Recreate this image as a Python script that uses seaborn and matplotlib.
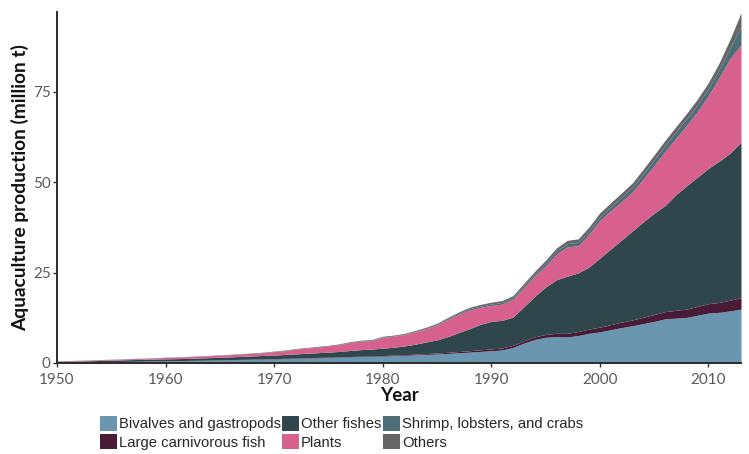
import numpy as np
import matplotlib
matplotlib.use("Agg")
import matplotlib.pyplot as plt
import seaborn as sns
from matplotlib.patches import Patch

years = list(range(1950, 2014))

bivalves = [0.20, 0.23, 0.26, 0.29, 0.32, 0.35, 0.39, 0.43, 0.47, 0.51,
            0.55, 0.60, 0.65, 0.70, 0.75, 0.80, 0.86, 0.92, 0.98, 1.04,
            1.10, 1.18, 1.26, 1.34, 1.42, 1.50, 1.58, 1.66, 1.74, 1.82,
            1.90, 2.00, 2.12, 2.24, 2.37, 2.50, 2.65, 2.82, 3.00, 3.20,
            3.40, 3.60, 4.30, 5.50, 6.50, 7.10, 7.30, 7.20, 7.60, 8.20,
            8.60, 9.20, 9.80, 10.30, 10.90, 11.50, 12.20, 12.40, 12.60, 13.20,
            13.80, 14.00, 14.40, 14.90]

large_carnivorous = [0.02, 0.02, 0.03, 0.03, 0.03, 0.04, 0.04, 0.04, 0.05, 0.05,
                     0.05, 0.06, 0.06, 0.07, 0.07, 0.08, 0.08, 0.09, 0.09, 0.10,
                     0.10, 0.11, 0.11, 0.12, 0.12, 0.13, 0.13, 0.14, 0.14, 0.15,
                     0.15, 0.17, 0.19, 0.21, 0.23, 0.25, 0.30, 0.35, 0.40, 0.45,
                     0.50, 0.55, 0.60, 0.65, 0.72, 0.80, 0.90, 1.00, 1.10, 1.20,
                     1.30, 1.40, 1.50, 1.60, 1.75, 1.90, 2.00, 2.15, 2.30, 2.45,
                     2.60, 2.75, 2.95, 3.20]

other_fishes = [0.23, 0.25, 0.26, 0.30, 0.35, 0.39, 0.43, 0.48, 0.50, 0.54,
                0.55, 0.54, 0.57, 0.61, 0.66, 0.70, 0.76, 0.81, 0.88, 0.94,
                1.00, 1.06, 1.15, 1.22, 1.31, 1.37, 1.49, 1.65, 1.82, 1.88,
                2.05, 2.18, 2.39, 2.75, 3.20, 3.65, 4.35, 5.23, 6.10, 7.05,
                7.60, 7.65, 7.80, 9.40, 11.20, 13.10, 14.80, 15.80, 16.20, 17.10,
                19.10, 20.90, 22.70, 24.60, 26.35, 28.00, 29.30, 31.95, 34.10, 35.75,
                37.40, 39.05, 40.65, 42.90]

plants = [0.11, 0.14, 0.17, 0.18, 0.20, 0.21, 0.22, 0.24, 0.27, 0.30,
          0.37, 0.42, 0.44, 0.48, 0.51, 0.57, 0.59, 0.65, 0.71, 0.77,
          0.94, 1.08, 1.29, 1.42, 1.53, 1.67, 1.85, 2.19, 2.32, 2.35,
          3.00, 3.02, 3.14, 3.40, 3.66, 4.10, 4.72, 5.04, 5.15, 4.67,
          4.40, 4.50, 4.90, 5.30, 5.60, 5.80, 7.10, 8.10, 7.50, 9.10,
          10.40, 10.60, 10.65, 10.80, 11.90, 13.20, 14.95, 15.60, 16.70, 18.20,
          20.10, 23.20, 26.10, 27.00]

shrimp = [0.01, 0.01, 0.01, 0.01, 0.01, 0.02, 0.02, 0.02, 0.02, 0.02,
          0.02, 0.02, 0.03, 0.03, 0.03, 0.03, 0.04, 0.04, 0.04, 0.05,
          0.05, 0.05, 0.06, 0.06, 0.07, 0.07, 0.08, 0.08, 0.09, 0.10,
          0.10, 0.11, 0.12, 0.14, 0.16, 0.20, 0.25, 0.30, 0.35, 0.38,
          0.40, 0.45, 0.50, 0.55, 0.65, 0.80, 0.85, 0.90, 0.95, 1.00,
          1.00, 1.10, 1.20, 1.30, 1.45, 1.60, 1.70, 1.80, 1.85, 1.90,
          2.00, 2.20, 3.00, 5.10]

others = [0.03, 0.03, 0.03, 0.04, 0.04, 0.04, 0.05, 0.05, 0.05, 0.06,
          0.06, 0.06, 0.07, 0.07, 0.08, 0.08, 0.09, 0.09, 0.10, 0.10,
          0.11, 0.12, 0.13, 0.14, 0.15, 0.16, 0.17, 0.18, 0.19, 0.20,
          0.20, 0.22, 0.24, 0.26, 0.28, 0.30, 0.33, 0.36, 0.40, 0.45,
          0.50, 0.52, 0.55, 0.60, 0.68, 0.80, 0.85, 0.90, 0.95, 1.00,
          1.10, 1.10, 1.15, 1.20, 1.25, 1.30, 1.35, 1.40, 1.45, 1.50,
          1.60, 1.80, 2.40, 3.70]

categories = ["Bivalves and gastropods", "Large carnivorous fish", "Other fishes",
              "Plants", "Shrimp, lobsters, and crabs", "Others"]
colors = ["#6b96af", "#4a1b36", "#2f464c", "#d8608d", "#4d6d79", "#666666"]
series = [bivalves, large_carnivorous, other_fishes, plants, shrimp, others]

y_ticks = [0, 25, 50, 75]
x_ticks = [1950, 1960, 1970, 1980, 1990, 2000, 2010]

sns.set_theme(style="ticks")
plt.rcParams["font.family"] = ["Lato", "DejaVu Sans"]

fig = plt.figure(figsize=(7.49, 4.54), dpi=100)
ax = fig.add_axes([57 / 749, 1 - 363 / 454, (741 - 57) / 749, (363 - 12) / 454])

ax.stackplot(years, *series, colors=colors, linewidth=0)

ax.set_xlim(1950, 2013)
ax.set_ylim(0, 97)
ax.set_yticks(y_ticks)
ax.set_xticks(x_ticks)
ax.tick_params(axis="both", labelsize=11, labelcolor="#5a5a5a", color="#333333",
               length=3, width=1)
ax.tick_params(axis="x", pad=4)
ax.tick_params(axis="y", pad=1.5)
sns.despine(ax=ax)
for s in ["left", "bottom"]:
    ax.spines[s].set_color("#2b2b2b")
    ax.spines[s].set_linewidth(1.4)

ax.set_xlabel("Year", fontsize=13.5, fontweight="bold", color="#111111", labelpad=0)
ax.set_ylabel("Aquaculture production (million t)", fontsize=13.8,
              fontweight="bold", color="#111111", labelpad=3)

handles = [Patch(facecolor=c, edgecolor="none") for c in colors]
fig.legend(handles, categories, ncol=3, loc="upper left",
           bbox_to_anchor=(100 / 749, 1 - 416 / 454), frameon=False,
           borderpad=0, borderaxespad=0, handlelength=1.15, handleheight=1.15,
           handletextpad=0.12, columnspacing=0.1, labelspacing=0.2,
           prop={"family": "Liberation Sans", "size": 10.7})

fig.savefig("out.png", dpi=100)
